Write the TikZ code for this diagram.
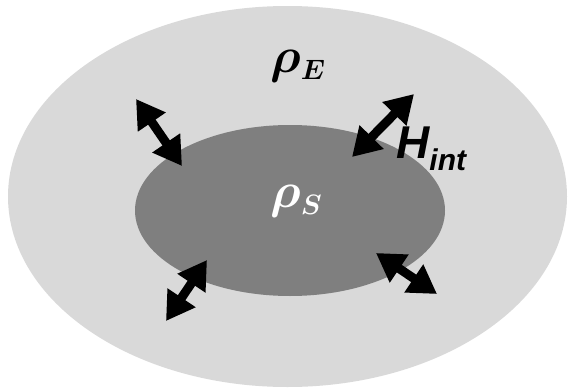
\documentclass[tikz,border=0pt]{standalone}
\usepackage{fix-cm}
\usepackage{amsmath,bm}
\usepackage{fontspec}
\newfontfamily\hfont{Liberation Sans}
\usetikzlibrary{shapes.geometric,arrows.meta}
\DeclareMathSizes{50}{50}{28}{20}
\definecolor{envgray}{HTML}{D9D9D9}
\definecolor{sysgray}{HTML}{7F7F7F}
\tikzset{
  ambiente/.style = {ellipse, fill=envgray, inner sep=0, minimum width=559pt, minimum height=381pt},
  sistema/.style  = {ellipse, fill=sysgray, inner sep=0, minimum width=310pt, minimum height=171pt},
  scambio/.style  = {line width=9pt, {Triangle[length=28pt,width=32pt]}-{Triangle[length=28pt,width=32pt]}},
  rho/.style      = {inner sep=0, anchor=base west, font=\fontsize{50}{50}\selectfont}
}

\begin{document}
\begin{tikzpicture}[x=1pt,y=-1pt]
  \useasboundingbox (0,0) rectangle (568,388);
  \node[ambiente] (E) at (287.5,196.5) {};
  \node[sistema]  (S) at (290,210.5) {};
  \node[rho] (rE) at (270,72) {$\bm{\rho}_{\bm{E}}$};
  \node[rho,text=white] (rS) at (270,207) {$\bm{\rho}_{\bm{S}}$};
  \node[inner sep=0, anchor=base west, font=\hfont\bfseries\itshape] (H) at (396,158)
    {\fontsize{46}{46}\selectfont H\fontsize{30}{30}\selectfont\raisebox{-12pt}{int}};
  \coordinate (a1) at (136,99);  \coordinate (b1) at (182,166);
  \coordinate (a2) at (414,94);  \coordinate (b2) at (352,157);
  \coordinate (a3) at (207,260); \coordinate (b3) at (166,321);
  \coordinate (a4) at (376,253); \coordinate (b4) at (437,294);
  \draw[scambio] (a1)--(b1);
  \draw[scambio] (a2)--(b2);
  \draw[scambio] (a3)--(b3);
  \draw[scambio] (a4)--(b4);
\end{tikzpicture}
\end{document}
